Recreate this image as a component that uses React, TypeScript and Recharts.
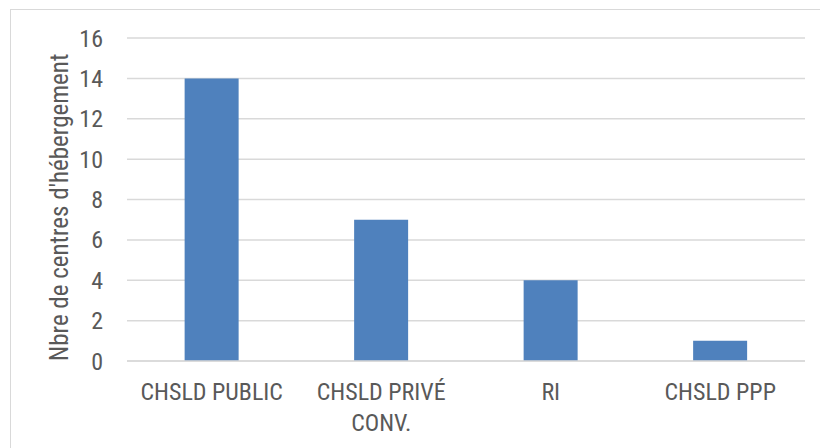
import { BarChart, Bar, XAxis, YAxis, CartesianGrid, Text } from 'recharts'

const categories = ['CHSLD PUBLIC', 'CHSLD PRIVÉ CONV.', 'RI', 'CHSLD PPP']
const centres = [14, 7, 4, 1]
const yTicks = [0, 2, 4, 6, 8, 10, 12, 14, 16]

const data = categories.map((name, i) => ({ name, value: centres[i] }))

const FONT = "'Roboto Condensed', 'Liberation Sans Narrow', 'Roboto', sans-serif"
const TEXT_COLOR = '#595959'

function CategoryTick(props: any) {
    const { x, y, payload } = props
    return (
        <Text
            x={x}
            y={y + 14}
            width={150}
            textAnchor="middle"
            verticalAnchor="start"
            lineHeight={31}
            fill={TEXT_COLOR}
            fontSize={24}
            fontFamily={FONT}
        >
            {payload.value}
        </Text>
    )
}

export default function App() {
    return (
        <div style={{ position: 'absolute', left: 0, top: 0, width: 820, height: 448, overflow: 'hidden', background: '#fff' }}>
            <div
                style={{
                    position: 'absolute',
                    left: 10,
                    top: 9,
                    width: 830,
                    height: 460,
                    border: '1px solid #d9d9d9',
                }}
            />
            <div style={{ position: 'absolute', left: 0, top: 0 }}>
                <BarChart
                    width={820}
                    height={448}
                    data={data}
                    barCategoryGap="34%"
                    margin={{ top: 38, right: 15, bottom: 0, left: 67 }}
                >
                    <CartesianGrid vertical={false} stroke="#d9d9d9" strokeWidth={1.5} />
                    <XAxis
                        dataKey="name"
                        height={87}
                        axisLine={{ stroke: '#d9d9d9', strokeWidth: 1.5 }}
                        tickLine={false}
                        interval={0}
                        tick={<CategoryTick />}
                    />
                    <YAxis
                        width={60}
                        domain={[0, 16]}
                        ticks={yTicks}
                        axisLine={false}
                        tickLine={false}
                        tickSize={0}
                        tickMargin={24}
                        tick={{ fill: TEXT_COLOR, fontSize: 24, fontFamily: FONT }}
                        label={{
                            value: "Nbre de centres d'hébergement",
                            angle: -90,
                            position: 'insideLeft',
                            offset: 0,
                            dx: -8,
                            dy: 8,
                            style: { fill: TEXT_COLOR, fontSize: 25, fontFamily: FONT, textAnchor: 'middle' },
                        }}
                    />
                    <Bar dataKey="value" fill="#4f81bd" isAnimationActive={false} />
                </BarChart>
            </div>
        </div>
    )
}
